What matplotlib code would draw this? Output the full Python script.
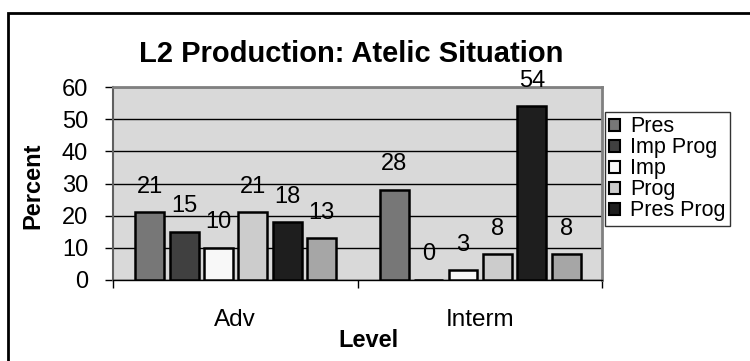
import numpy as np
import matplotlib
matplotlib.use("Agg")
from matplotlib import pyplot as plt
from matplotlib.patches import Rectangle, Patch

plt.rcParams['font.family'] = ['Liberation Sans', 'DejaVu Sans']

levels = ['Adv', 'Interm']
series = ['Pres', 'Imp Prog', 'Imp', 'Prog', 'Pres Prog', '']
values = [
    [21, 28],   # Pres
    [15, 0],    # Imp Prog
    [10, 3],    # Imp
    [21, 8],    # Prog
    [18, 54],   # Pres Prog
    [13, 8],    # (not in legend)
]
colors = ['#777777', '#404040', '#f8f8f8', '#cccccc', '#1e1e1e', '#a6a6a6']
yticks = [0, 10, 20, 30, 40, 50, 60]

W, H = 750, 361
fig = plt.figure(figsize=(7.5, 3.61), dpi=100)
ax = fig.add_axes([113 / W, 1 - 280 / H, (602 - 113) / W, (280 - 87) / H])
ax.set_facecolor('#d9d9d9')

step = 0.1407
width = 0.118
x = np.arange(len(levels))
for j, (vals, c) in enumerate(zip(values, colors)):
    pos = x - 0.35 + j * step
    ax.bar(pos, vals, width, color=c, edgecolor='black', linewidth=1.8, zorder=3)
    for p, v in zip(pos, vals):
        ax.annotate(str(v), (p, v), xytext=(0, 10.5), textcoords='offset points',
                    ha='center', va='bottom', fontsize=17)

ax.set_xlim(-0.5, 1.5)
ax.set_ylim(0, 60)
ax.set_yticks(yticks)
ax.yaxis.grid(True, color='black', linewidth=1)
ax.set_axisbelow(True)
ax.tick_params(axis='y', labelsize=17, length=6, width=1, direction='out', pad=12)

ax.set_xticks([-0.5, 0.5, 1.5])
ax.set_xticklabels([])
ax.tick_params(axis='x', which='major', length=6, width=1, direction='out')
ax.set_xticks(x, minor=True)
ax.set_xticklabels(levels, minor=True)
ax.tick_params(axis='x', which='minor', length=0, labelsize=17.5, pad=21)

for s in ['top', 'right']:
    ax.spines[s].set_color('#808080')
    ax.spines[s].set_linewidth(2)
ax.spines['left'].set_color('#606060')
ax.spines['left'].set_linewidth(1.5)
ax.spines['bottom'].set_color('black')
ax.spines['bottom'].set_linewidth(1)

fig.text(351 / W, 1 - 62 / H, 'L2 Production: Atelic Situation', ha='center',
         va='baseline', fontsize=21, fontweight='bold')
fig.text(33 / W, 1 - 186 / H, 'Percent', ha='center', va='center', rotation=90,
         fontsize=17, fontweight='bold')
fig.text(368 / W, 1 - 347 / H, 'Level', ha='center', va='baseline',
         fontsize=17, fontweight='bold')

handles = [Patch(facecolor=c, edgecolor='black', linewidth=1.5)
           for c in colors[:5]]
leg = fig.legend(handles, series[:5], loc='upper left',
                 bbox_to_anchor=(605 / W, 1 - 112 / H), fontsize=15.5,
                 frameon=True, fancybox=False, edgecolor='black',
                 handlelength=0.5, handleheight=0.5, handletextpad=0.45,
                 labelspacing=0.0, borderpad=0.2, borderaxespad=0)
leg.get_frame().set_linewidth(1)

fig.patches.append(Rectangle((8 / W, -0.05), 1.1, 1 - 13 / H + 0.05,
                             transform=fig.transFigure, fill=False,
                             edgecolor='black', linewidth=2))

fig.savefig('out.png', dpi=100)
